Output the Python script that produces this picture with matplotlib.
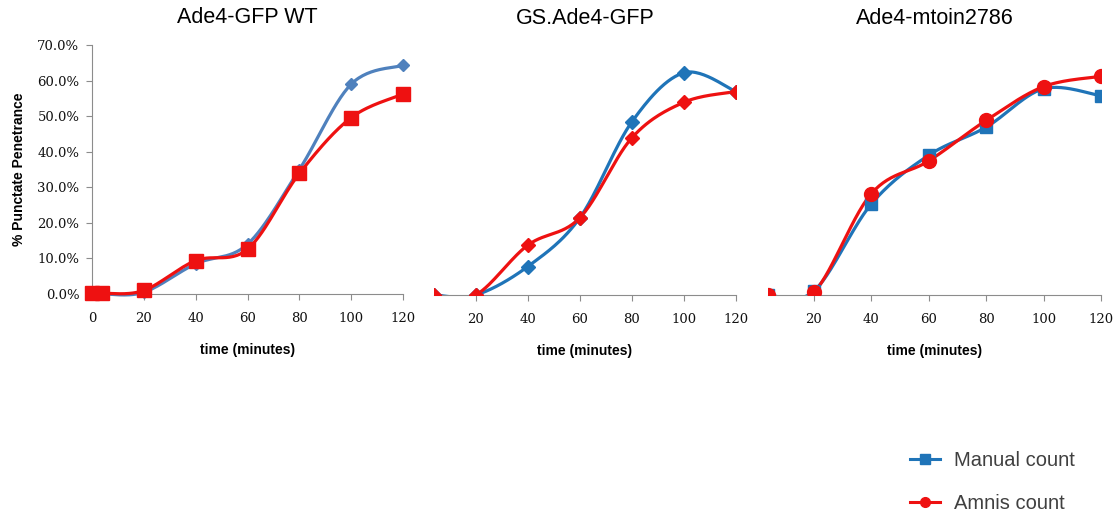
import numpy as np
import matplotlib.pyplot as plt
from matplotlib.lines import Line2D

# time points (minutes)
t_wt = [0, 4, 20, 40, 60, 80, 100, 120]
t_other = [4, 20, 40, 60, 80, 100, 120]

# % punctate penetrance, per strain
wt_manual = [0.0, 0.0, 0.005, 0.085, 0.14, 0.35, 0.59, 0.643]
wt_amnis = [0.003, 0.002, 0.010, 0.094, 0.126, 0.339, 0.496, 0.562]

gs_manual = [0.0, 0.0, 0.080, 0.217, 0.487, 0.625, 0.572]
gs_amnis = [0.0, 0.0, 0.140, 0.217, 0.442, 0.542, 0.572]

mt_manual = [0.0, 0.011, 0.256, 0.393, 0.472, 0.580, 0.560]
mt_amnis = [0.0, 0.008, 0.285, 0.377, 0.491, 0.586, 0.615]

titles = ['Ade4-GFP WT', 'GS.Ade4-GFP', 'Ade4-mtoin2786']

RED = '#EE1111'
BLUE1 = '#4F81BD'
BLUE2 = '#1F74B8'
SERIF = 'DejaVu Serif'


def smooth(x, y, n=30):
    # Catmull-Rom curve through the points, like a spreadsheet "smoothed line"
    p = np.column_stack([x, y]).astype(float)
    p = np.vstack([p[0], p, p[-1]])
    out = []
    s = np.linspace(0, 1, n)[:, None]
    for i in range(1, len(p) - 2):
        p0, p1, p2, p3 = p[i - 1], p[i], p[i + 1], p[i + 2]
        seg = 0.5 * ((2 * p1) + (-p0 + p2) * s + (2 * p0 - 5 * p1 + 4 * p2 - p3) * s ** 2
                     + (-p0 + 3 * p1 - 3 * p2 + p3) * s ** 3)
        out.append(seg)
    c = np.vstack(out)
    return c[:, 0], c[:, 1]


def draw(ax, x, y, color, marker, ms, clip=True):
    sx, sy = smooth(x, y)
    ax.plot(sx, sy, color=color, lw=2.3, clip_on=clip, zorder=3)
    ax.plot(x, y, ls='none', marker=marker, ms=ms, color=color, clip_on=clip, zorder=4)


fig = plt.figure(figsize=(11.19, 5.14), dpi=100)
ax1 = fig.add_axes([0.0822, 0.428, 0.278, 0.4844])
ax2 = fig.add_axes([0.3878, 0.426, 0.270, 0.4844])
ax3 = fig.add_axes([0.6863, 0.426, 0.2976, 0.4844])

draw(ax1, t_wt, wt_manual, BLUE1, 'D', 6.5, clip=False)
draw(ax1, t_wt, wt_amnis, RED, 's', 10, clip=False)

draw(ax2, t_other, gs_manual, BLUE2, 'D', 7.5)
draw(ax2, t_other, gs_amnis, RED, 'D', 7.5)

draw(ax3, t_other, mt_manual, BLUE2, 's', 8.5)
draw(ax3, t_other, mt_amnis, RED, 'o', 10)

for ax, title in zip([ax1, ax2, ax3], titles):
    ax.set_ylim(0, 0.7)
    ax.set_title(title, fontsize=15.5, family='Liberation Sans', pad=16)
    ax.set_xlabel('time (minutes)', fontsize=10, fontweight='bold', family='Liberation Sans', labelpad=13)
    for side in ['top', 'right', 'left']:
        ax.spines[side].set_visible(False)
    ax.spines['bottom'].set_color('#8C8C8C')
    ax.tick_params(axis='x', length=4, width=0.8, color='#8C8C8C', pad=9)

ax1.set_xlim(0, 120)
ax1.set_xticks([0, 20, 40, 60, 80, 100, 120])
ax1.spines['left'].set_visible(True)
ax1.spines['left'].set_color('#8C8C8C')
ax1.set_yticks(np.arange(0, 0.71, 0.1))
ax1.set_yticklabels(['%.1f%%' % (v * 100) for v in np.arange(0, 0.71, 0.1)])
ax1.tick_params(axis='y', length=4, width=0.8, color='#8C8C8C', pad=5)
ax1.set_ylabel('% Punctate Penetrance', fontsize=10, fontweight='bold', family='Liberation Sans', labelpad=8)

for ax in [ax2, ax3]:
    ax.set_xlim(4, 120)
    ax.set_xticks([20, 40, 60, 80, 100, 120])
    ax.set_yticks([])

for ax in [ax1, ax2, ax3]:
    for lab in ax.get_xticklabels() + ax.get_yticklabels():
        lab.set_family(SERIF)
        lab.set_fontsize(9.5)
        lab.set_color('#111111')

handles = [Line2D([], [], color=BLUE2, lw=2.2, marker='s', ms=7),
           Line2D([], [], color=RED, lw=2.2, marker='o', ms=7)]
fig.legend(handles, ['Manual count', 'Amnis count'], loc='lower right',
           bbox_to_anchor=(0.977, -0.034), frameon=False,
           labelspacing=1.2, handlelength=1.5, handletextpad=0.7, labelcolor='#404040',
           prop={'family': 'Liberation Sans', 'size': 14.5})

fig.savefig('out.png', dpi=100)
